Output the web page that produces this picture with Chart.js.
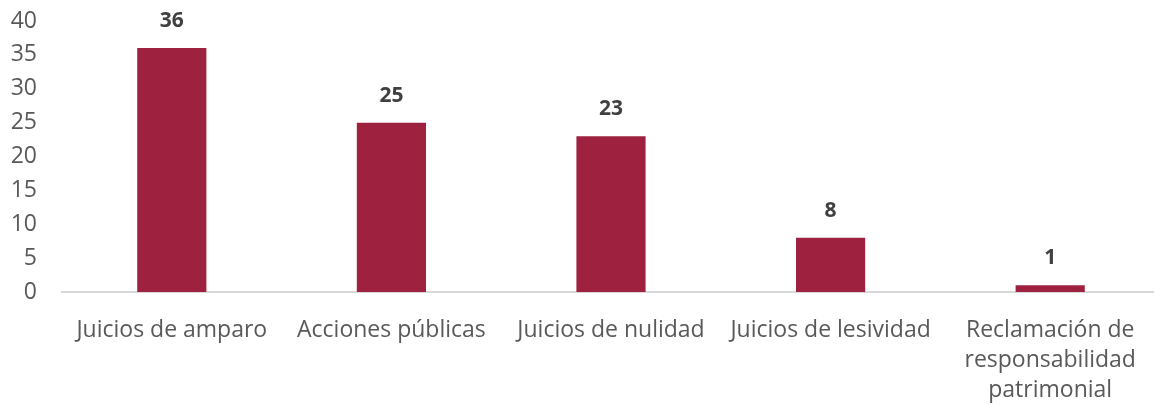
<!DOCTYPE html>
<html>
<head>
<meta charset="utf-8">
<script src="https://cdn.jsdelivr.net/npm/chart.js@4.4.0/dist/chart.umd.min.js"></script>
<style>
  html, body { margin: 0; background: #ffffff; overflow: hidden; }
  #wrap { width: 1160px; height: 406px; position: relative; }
</style>
</head>
<body>
<div id="wrap"><canvas id="myChart"></canvas></div>
<script>
var categories = [
  'Juicios de amparo',
  'Acciones públicas',
  'Juicios de nulidad',
  'Juicios de lesividad',
  ['Reclamación de', 'responsabilidad', 'patrimonial']
];
var values = [36, 25, 23, 8, 1];

// Draw the value above each bar (no datalabels plugin available)
var barLabels = {
  id: 'barLabels',
  afterDatasetsDraw: function(chart) {
    var ctx = chart.ctx;
    var meta = chart.getDatasetMeta(0);
    ctx.save();
    ctx.font = 'bold 21px "Open Sans"';
    ctx.fillStyle = '#404040';
    ctx.textAlign = 'center';
    ctx.textBaseline = 'middle';
    meta.data.forEach(function(bar, i) {
      ctx.fillText(values[i], bar.x, bar.y - 27);
    });
    ctx.restore();
  }
};

var chart = new Chart(document.getElementById('myChart'), {
  type: 'bar',
  data: {
    labels: categories,
    datasets: [{
      data: values,
      backgroundColor: '#9E2140',
      categoryPercentage: 1,
      barPercentage: 0.315
    }]
  },
  options: {
    events: [],
    animation: false,
    responsive: true,
    maintainAspectRatio: false,
    plugins: {
      legend: { display: false },
      tooltip: { enabled: false }
    },
    scales: {
      x: {
        grid: { display: false },
        border: { display: true, color: '#D9D9D9', width: 2 },
        ticks: {
          color: '#595959',
          font: { family: 'Open Sans', size: 23, lineHeight: 1.3 },
          padding: 16,
          maxRotation: 0,
          autoSkip: false
        },
        afterFit: function(scale) { scale.height = 114; }
      },
      y: {
        min: 0,
        max: 40,
        grid: { display: false, drawTicks: false },
        border: { display: false },
        ticks: {
          stepSize: 5,
          autoSkip: false,
          color: '#595959',
          font: { family: 'Open Sans', size: 23 },
          padding: 25
        },
        afterFit: function(scale) {
          scale.width = 62;
          scale.paddingTop = 21;
        }
      }
    }
  },
  plugins: [barLabels]
});
</script>
</body>
</html>
